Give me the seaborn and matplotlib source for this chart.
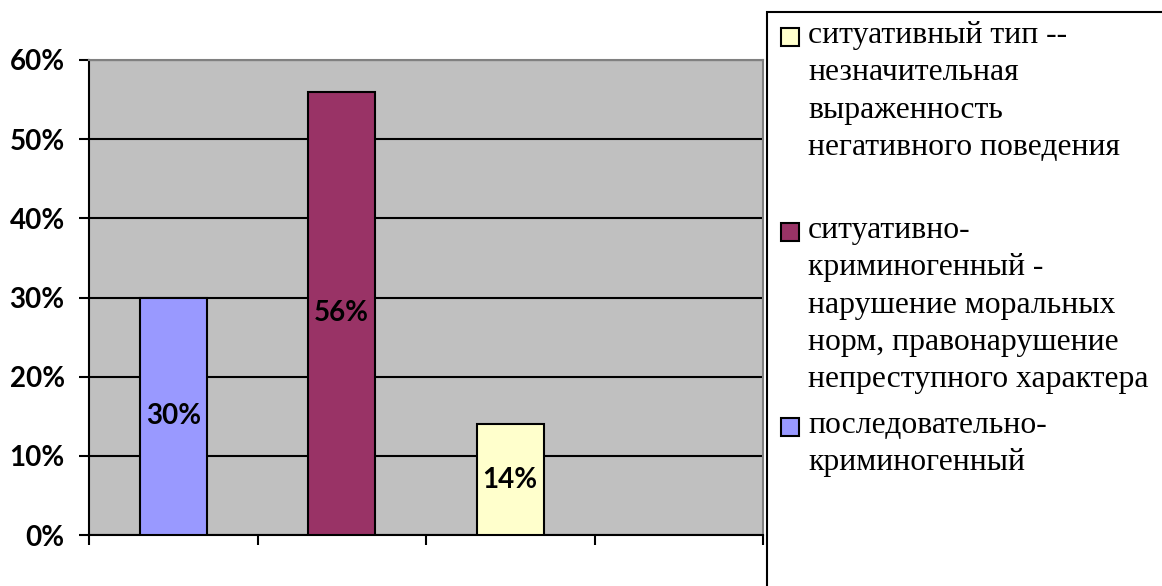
import pandas as pd
import seaborn as sns
import matplotlib.pyplot as plt
from matplotlib.patches import Rectangle

# data
categories = ['последовательно-\nкриминогенный',
              'ситуативно-\nкриминогенный -\nнарушение моральных\nнорм, правонарушение\nнепреступного характера',
              'ситуативный тип --\nнезначительная\nвыраженность\nнегативного поведения']
values = [30, 56, 14]
colors = ['#9999FF', '#993366', '#FFFFCC']
y_ticks = [0, 10, 20, 30, 40, 50, 60]

df = pd.DataFrame({'type': categories, 'share': values})

sns.set_style('white')
plt.rcParams['font.family'] = ['Lato', 'DejaVu Sans']
plt.rcParams['text.color'] = 'black'
plt.rcParams['ytick.color'] = 'black'
plt.rcParams['xtick.color'] = 'black'

fig = plt.figure(figsize=(11.62, 5.86), dpi=100)
ax = fig.add_axes([89 / 1162, 1 - 535 / 586, 674 / 1162, 475 / 586])
ax.set_facecolor('#C0C0C0')

sns.barplot(data=df, x='type', y='share', hue='type', palette=colors, saturation=1,
            width=0.4, edgecolor='black', linewidth=1.5, legend=False,
            ax=ax, zorder=3)

ax.set_xlim(-0.5, 3.5)
ax.set_ylim(0, 60)
ax.set_yticks(y_ticks)
ax.set_yticklabels([f'{t}%' for t in y_ticks], fontsize=20, fontweight='bold')
ax.set_xticks([-0.5, 0.5, 1.5, 2.5, 3.5])
ax.set_xticklabels([])
ax.set_xlabel('')
ax.set_ylabel('')
ax.tick_params(axis='both', direction='out', length=7.5, width=1.5, color='black',
               bottom=True, left=True, labelcolor='black')
ax.tick_params(axis='y', pad=10)
ax.yaxis.grid(True, color='black', linewidth=1.5, zorder=1)
ax.set_axisbelow(True)
for side in ['left', 'bottom']:
    ax.spines[side].set_color('black')
    ax.spines[side].set_linewidth(1.5)
for side in ['top', 'right']:
    ax.spines[side].set_color('#808080')
    ax.spines[side].set_linewidth(1.5)

for cont in ax.containers:
    ax.bar_label(cont, labels=[f'{v:.0f}%' for v in cont.datavalues],
                 label_type='center', fontsize=20, fontweight='bold', color='black')

# legend panel (Excel style, entries in reverse order)
fig.patches.append(Rectangle((767 / 1162, -0.1), 1, 1.1 - 12 / 586, transform=fig.transFigure,
                             facecolor='white', edgecolor='black', linewidth=1.5))
for i, idx in enumerate([2, 1, 0]):
    y_top = 21 + i * 195
    fig.patches.append(Rectangle((781 / 1162, 1 - (y_top + 25) / 586), 18 / 1162, 18 / 586,
                                 transform=fig.transFigure, facecolor=colors[idx],
                                 edgecolor='black', linewidth=1.5))
    fig.text(808 / 1162, 1 - y_top / 586, categories[idx], family='Liberation Serif',
             fontsize=22.8, va='top', ha='left', linespacing=1.38)

fig.savefig('out.png', dpi=100)
